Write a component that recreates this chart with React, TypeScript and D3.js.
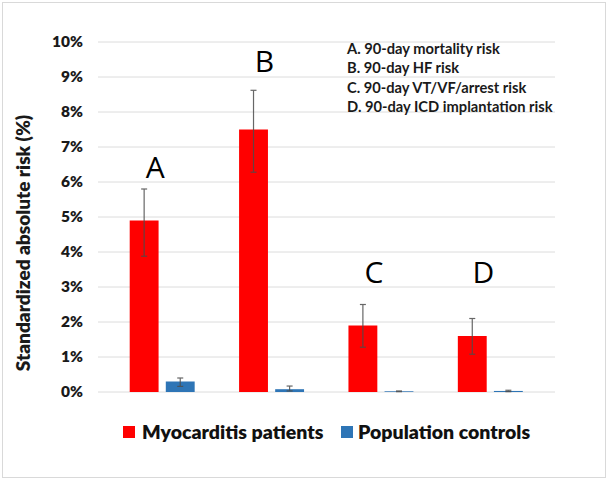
import React from 'react';
import * as d3 from 'd3';

// chart data
const categories = ['A', 'B', 'C', 'D'];
const seriesNames = ['Myocarditis patients', 'Population controls'];
const seriesColors = ['#ff0000', '#2e75b6'];
const myocarditis = [4.9, 7.5, 1.9, 1.6];
const myocarditisLow = [3.88, 6.28, 1.28, 1.08];
const myocarditisHigh = [5.8, 8.62, 2.5, 2.1];
const controls = [0.3, 0.08, 0.02, 0.03];
const controlsLow = [0.16, 0.03, 0.01, 0.01];
const controlsHigh = [0.4, 0.17, 0.03, 0.05];
const yTicks = [0, 1, 2, 3, 4, 5, 6, 7, 8, 9, 10];
// annotation letters sit at these heights (in % units)
const letterAt = [6.12, 9.15, 3.12, 3.12];
const notes = [
  'A. 90-day mortality risk',
  'B. 90-day HF risk',
  'C. 90-day VT/VF/arrest risk',
  'D. 90-day ICD implantation risk',
];

const W = 608;
const H = 480;
const FONT = 'Lato, "Open Sans", sans-serif';

export default function App() {
  const y = d3.scaleLinear().domain([0, 10]).range([392, 42]);
  const x = d3.scaleBand<string>()
    .domain(categories)
    .range([107.5, 545])
    .paddingInner(0.406)
    .paddingOuter(0.203);
  const xs = d3.scaleBand<string>()
    .domain(seriesNames)
    .range([0, x.bandwidth()])
    .paddingInner(0.2);

  const series = [
    { name: seriesNames[0], vals: myocarditis, lo: myocarditisLow, hi: myocarditisHigh, color: seriesColors[0] },
    { name: seriesNames[1], vals: controls, lo: controlsLow, hi: controlsHigh, color: seriesColors[1] },
  ];

  return (
    <svg
      width={W}
      height={H}
      style={{ position: 'fixed', left: 0, top: 0, background: '#fff', fontFamily: FONT }}
    >
      <rect x={2.5} y={2.5} width={W - 5} height={H - 5} fill="#fff" stroke="#d9d9d9" />

      {/* gridlines */}
      {yTicks.map(t => (
        <line key={t} x1={98} x2={555} y1={y(t)} y2={y(t)} stroke="#dcdcdc" strokeWidth={1} />
      ))}

      {/* y tick labels */}
      {yTicks.map(t => (
        <text key={t} x={83} y={y(t)} dy="0.35em" textAnchor="end" fontSize={15.5} fontWeight={800} fill="#1a1a1a">
          {t}%
        </text>
      ))}

      <text
        transform={`translate(30,243) rotate(-90)`}
        textAnchor="middle"
        fontSize={19}
        fontWeight={800}
        fill="#1a1a1a"
      >
        Standardized absolute risk (%)
      </text>

      {/* bars */}
      {series.map(s => (
        <g key={s.name}>
          {categories.map((c, i) => {
            const bx = x(c)! + xs(s.name)!;
            return (
              <rect key={c} x={bx} y={y(s.vals[i])} width={xs.bandwidth()} height={y(0) - y(s.vals[i])} fill={s.color} />
            );
          })}
        </g>
      ))}

      {/* error bars */}
      {series.map(s => (
        <g key={s.name} stroke="#4d4d4d" strokeWidth={1.2} opacity={0.85}>
          {categories.map((c, i) => {
            const cx = x(c)! + xs(s.name)! + xs.bandwidth() / 2;
            return (
              <g key={c}>
                <line x1={cx} x2={cx} y1={y(s.lo[i])} y2={y(s.hi[i])} />
                <line x1={cx - 3} x2={cx + 3} y1={y(s.hi[i])} y2={y(s.hi[i])} />
                <line x1={cx - 3} x2={cx + 3} y1={y(s.lo[i])} y2={y(s.lo[i])} />
              </g>
            );
          })}
        </g>
      ))}

      {/* letters */}
      {categories.map((c, i) => (
        <text key={c} x={x(c)! + x.bandwidth() / 2 - 7} y={y(letterAt[i])} textAnchor="middle" fontSize={30} fill="#000"
          fontFamily='"Open Sans", sans-serif'>
          {c}
        </text>
      ))}

      {/* notes */}
      {notes.map((n, i) => (
        <text key={n} x={347} y={54 + i * 19.3} fontSize={14.7} fontWeight={700} fill="#1a1a1a">
          {n}
        </text>
      ))}

      {/* legend */}
      <g>
        <rect x={123} y={426} width={12} height={12} fill={seriesColors[0]} />
        <text x={142} y={438.5} fontSize={19.5} fontWeight={800} fill="#111">{seriesNames[0]}</text>
        <rect x={341} y={426} width={12} height={12} fill={seriesColors[1]} />
        <text x={358} y={438.5} fontSize={19.5} fontWeight={800} fill="#111">{seriesNames[1]}</text>
      </g>
    </svg>
  );
}
